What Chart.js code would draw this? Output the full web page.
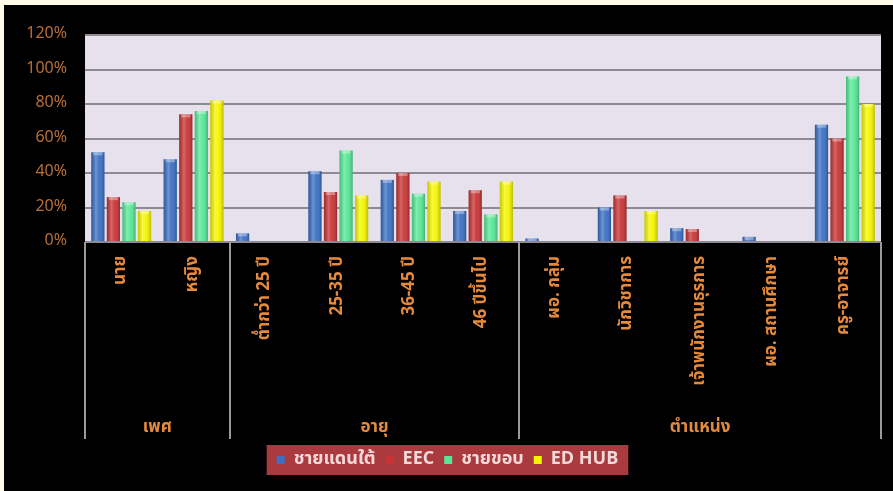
<!DOCTYPE html>
<html>
<head>
<meta charset="utf-8">
<script src="https://cdn.jsdelivr.net/npm/chart.js@4.4.1/dist/chart.umd.min.js"></script>
<style>
    html, body { margin: 0; padding: 0; background: #fffbe8; width: 893px; height: 491px; overflow: hidden; }
    #wrap { position: absolute; left: 4px; top: 5px; width: 889px; height: 486px; }
</style>
</head>
<body>
<div id="wrap"><canvas id="surveyChart"></canvas></div>
<script>
// categories and groups (multi-level x axis)
const categories = ['นาย', 'หญิง', 'ต่ำกว่า 25 ปี', '25-35 ปี', '36-45 ปี', '46 ปีขึ้นไป',
    'ผอ. กลุ่ม', 'นักวิชาการ', 'เจ้าพนักงานธุรการ', 'ผอ. สถานศึกษา', 'ครู-อาจารย์'];
const groupNames = ['เพศ', 'อายุ', 'ตำแหน่ง'];
const groupSizes = [2, 4, 5];

// series values (%)
const chaidaentai = [52, 48, 5, 41, 36, 18, 2, 20, 8, 3, 68];
const eec = [26, 74, 0, 29, 40, 30, 0, 27, 7.5, 0, 60];
const chaikhob = [23, 76, 0, 53, 28, 16, 0, 0, 0, 0, 96];
const edhub = [18, 82, 0, 27, 35, 35, 0, 18, 0, 0, 80];

const yTicks = [0, 20, 40, 60, 80, 100, 120];

const labelColor = '#e58a3c';
const fontFamily = "Tahoma, 'Noto Sans Thai', 'Noto Sans', sans-serif";

// black background + lavender plot area
const backgroundPlugin = {
    id: 'background',
    beforeDraw(chart) {
        const { ctx, chartArea: a } = chart;
        ctx.save();
        ctx.fillStyle = '#000';
        ctx.fillRect(0, 0, chart.width, chart.height);
        ctx.fillStyle = '#e7e1ee';
        ctx.fillRect(a.left, a.top, a.right - a.left, a.bottom - a.top);
        ctx.restore();
    }
};

// cylinder shading on bars
const shadePlugin = {
    id: 'shade',
    afterDatasetsDraw(chart) {
        const ctx = chart.ctx;
        chart.data.datasets.forEach((ds, i) => {
            chart.getDatasetMeta(i).data.forEach(bar => {
                const h = bar.base - bar.y;
                if (h < 1) return;
                const l = bar.x - bar.width / 2;
                const g = ctx.createLinearGradient(l, 0, l + bar.width, 0);
                g.addColorStop(0, 'rgba(0,0,0,0.18)');
                g.addColorStop(0.35, 'rgba(255,255,255,0.25)');
                g.addColorStop(0.6, 'rgba(255,255,255,0.05)');
                g.addColorStop(1, 'rgba(0,0,0,0.25)');
                ctx.save();
                ctx.fillStyle = g;
                ctx.fillRect(l, bar.y, bar.width, h);
                ctx.fillStyle = 'rgba(255,255,255,0.35)';
                ctx.fillRect(l + 2, bar.y, bar.width - 4, Math.min(3, h));
                ctx.restore();
            });
        });
    }
};

// group dividers and group labels under the x axis
const groupPlugin = {
    id: 'groups',
    afterDraw(chart) {
        const { ctx, chartArea: a } = chart;
        const w = (a.right - a.left) / categories.length;
        const bottom = a.bottom + 197;
        ctx.save();
        ctx.strokeStyle = '#9a9a9a';
        ctx.lineWidth = 2;
        let idx = 0;
        const edges = [0];
        groupSizes.forEach(n => { idx += n; edges.push(idx); });
        edges.forEach(e => {
            const x = Math.round(a.left + e * w);
            ctx.beginPath();
            ctx.moveTo(x, a.bottom);
            ctx.lineTo(x, bottom);
            ctx.stroke();
        });
        ctx.fillStyle = labelColor;
        ctx.font = 'bold 17px ' + fontFamily;
        ctx.textAlign = 'center';
        ctx.textBaseline = 'middle';
        groupNames.forEach((name, i) => {
            const cx = a.left + (edges[i] + edges[i + 1]) / 2 * w;
            ctx.fillText(name, cx, a.bottom + 187);
        });
        ctx.restore();
    }
};

// red box behind the legend
const legendBoxPlugin = {
    id: 'legendBox',
    beforeDraw(chart) {
        const lg = chart.legend;
        if (!lg || !lg.legendHitBoxes.length) return;
        const boxes = lg.legendHitBoxes;
        const left = Math.min(...boxes.map(b => b.left)) - 10;
        const right = Math.max(...boxes.map(b => b.left + b.width)) + 10;
        const top = boxes[0].top - 6;
        const bottom = boxes[0].top + boxes[0].height + 6;
        chart.ctx.save();
        chart.ctx.fillStyle = '#a93a3e';
        chart.ctx.fillRect(left, top, right - left, bottom - top);
        chart.ctx.restore();
    }
};

const ctx = document.getElementById('surveyChart').getContext('2d');
const surveyChart = new Chart(ctx, {
    type: 'bar',
    data: {
        labels: categories,
        datasets: [
            { label: 'ชายแดนใต้', data: chaidaentai, backgroundColor: '#3b6fc3' },
            { label: 'EEC', data: eec, backgroundColor: '#c83434' },
            { label: 'ชายขอบ', data: chaikhob, backgroundColor: '#57e896' },
            { label: 'ED HUB', data: edhub, backgroundColor: '#f6f600' }
        ]
    },
    options: {
        responsive: true,
        maintainAspectRatio: false,
        animation: false,
        layout: { padding: { left: 10, right: 12, top: 30, bottom: 12 } },
        datasets: {
            bar: { categoryPercentage: 0.86, barPercentage: 0.85 }
        },
        plugins: {
            legend: {
                position: 'bottom',
                labels: {
                    color: '#f3d9d9',
                    font: { family: fontFamily, size: 18, weight: 'bold' },
                    boxWidth: 8,
                    boxHeight: 8,
                    padding: 10
                }
            },
            title: { display: false },
            tooltip: { enabled: false }
        },
        scales: {
            x: {
                grid: { display: false },
                border: { display: false },
                ticks: {
                    color: labelColor,
                    font: { family: fontFamily, size: 17, weight: 'bold' },
                    minRotation: 90,
                    maxRotation: 90,
                    padding: 6,
                    autoSkip: false
                },
                afterFit(scale) { scale.height = 199; }
            },
            y: {
                min: 0,
                max: 120,
                afterBuildTicks(scale) { scale.ticks = yTicks.map(v => ({ value: v })); },
                grid: { color: '#8e8a93', lineWidth: 2, drawTicks: false },
                border: { display: false },
                ticks: {
                    color: '#b86f36',
                    font: { family: fontFamily, size: 16 },
                    padding: 18,
                    callback: v => v + '%'
                },
                afterFit(scale) { scale.width = 71; }
            }
        }
    },
    plugins: [backgroundPlugin, legendBoxPlugin, shadePlugin, groupPlugin]
});
</script>
</body>
</html>
